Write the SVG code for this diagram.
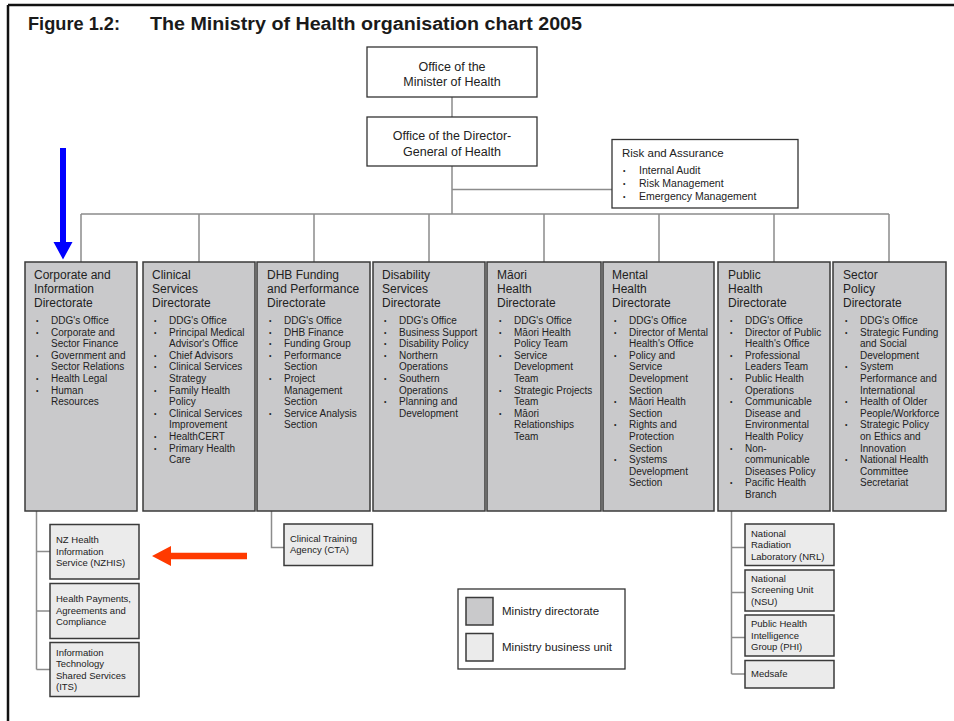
<svg xmlns="http://www.w3.org/2000/svg" width="954" height="721" viewBox="0 0 954 721">
<style>
text{font-family:"Liberation Sans",Arial,sans-serif;fill:#222}
.ttl{font-weight:bold;font-size:18px;fill:#1a1a1a}
.plain{fill:#fff;stroke:#333;stroke-width:1.3}
.dir{fill:#c9c9cb;stroke:#3a3a3a;stroke-width:1.5}
.unit{fill:#ebebeb;stroke:#3a3a3a;stroke-width:1.5}
.conn{stroke:#8c8c8c;stroke-width:1.5;fill:none}
.h{font-size:12.5px}
.dt{font-size:12px}
.it{font-size:10px}
.bl{font-size:7px}
.ut{font-size:9.5px}
.lg{font-size:11.5px}
.rk{font-size:11.5px}
.ri{font-size:10.5px}
</style>
<defs>
<marker id="m" markerWidth="1" markerHeight="1"/>
</defs>
<rect width="954" height="721" fill="#fff"/>
<path d="M8 5H954M8 5V721" stroke="#111" stroke-width="2.5" fill="none"/>
<text class="ttl" x="28" y="30" textLength="92" lengthAdjust="spacingAndGlyphs">Figure 1.2:</text>
<text class="ttl" x="150" y="30" textLength="432" lengthAdjust="spacingAndGlyphs">The Ministry of Health organisation chart 2005</text>

<g id="connectors">
<path class="conn" d="M452 97V117M452 166V214M452 189.5H612M81 214H889M81 214V262M199 214V262M314 214V262M429 214V262M544 214V262M659 214V262M774 214V262M889 214V262"/>
<path class="conn" d="M36.5 511V669.5M36.5 551.5H50M36.5 611H50M36.5 669.5H50"/>
<path class="conn" d="M271.5 511V547.5H284"/>
<path class="conn" d="M731.5 511V674M731.5 547.5H745M731.5 592.5H745M731.5 637.5H745M731.5 674H745"/>
</g>

<g id="minister">
<rect class="plain" x="367" y="47" width="170" height="50"/>
<text class="h" x="452" y="71" text-anchor="middle">Office of the</text>
<text class="h" x="452" y="86" text-anchor="middle">Minister of Health</text>
</g>
<g id="dg">
<rect class="plain" x="367" y="117" width="170" height="49"/>
<text class="h" x="452" y="140" text-anchor="middle">Office of the Director-</text>
<text class="h" x="452" y="156" text-anchor="middle">General of Health</text>
</g>
<g id="risk">
<rect class="plain" x="612" y="139.5" width="186" height="68.5"/>
<text class="rk" x="622" y="157">Risk and Assurance</text>
<text class="bl" x="623"><tspan x="623" y="173">•</tspan><tspan x="623" y="186">•</tspan><tspan x="623" y="199">•</tspan></text>
<text class="ri"><tspan x="639" y="174">Internal Audit</tspan><tspan x="639" y="187">Risk Management</tspan><tspan x="639" y="200">Emergency Management</tspan></text>
</g>

<g id="dir-corporate">
<rect class="dir" x="25" y="262" width="112" height="249"/>
<text class="dt"><tspan x="34" y="279">Corporate and</tspan><tspan x="34" y="293">Information</tspan><tspan x="34" y="307">Directorate</tspan></text>
<text class="bl"><tspan x="36" y="323">•</tspan><tspan x="36" y="334.6">•</tspan><tspan x="36" y="357.8">•</tspan><tspan x="36" y="381">•</tspan><tspan x="36" y="392.6">•</tspan></text>
<text class="it"><tspan x="51" y="324">DDG's Office</tspan><tspan x="51" y="335.6">Corporate and</tspan><tspan x="51" y="347.2">Sector Finance</tspan><tspan x="51" y="358.8">Government and</tspan><tspan x="51" y="370.4">Sector Relations</tspan><tspan x="51" y="382">Health Legal</tspan><tspan x="51" y="393.6">Human</tspan><tspan x="51" y="405.2">Resources</tspan></text>
</g>

<g id="dir-clinical">
<rect class="dir" x="143" y="262" width="112" height="249"/>
<text class="dt"><tspan x="152" y="279">Clinical</tspan><tspan x="152" y="293">Services</tspan><tspan x="152" y="307">Directorate</tspan></text>
<text class="bl"><tspan x="154" y="323">•</tspan><tspan x="154" y="334.6">•</tspan><tspan x="154" y="357.8">•</tspan><tspan x="154" y="369.4">•</tspan><tspan x="154" y="392.6">•</tspan><tspan x="154" y="415.8">•</tspan><tspan x="154" y="439">•</tspan><tspan x="154" y="450.6">•</tspan></text>
<text class="it"><tspan x="169" y="324">DDG's Office</tspan><tspan x="169" y="335.6">Principal Medical</tspan><tspan x="169" y="347.2">Advisor's Office</tspan><tspan x="169" y="358.8">Chief Advisors</tspan><tspan x="169" y="370.4">Clinical Services</tspan><tspan x="169" y="382">Strategy</tspan><tspan x="169" y="393.6">Family Health</tspan><tspan x="169" y="405.2">Policy</tspan><tspan x="169" y="416.8">Clinical Services</tspan><tspan x="169" y="428.4">Improvement</tspan><tspan x="169" y="440">HealthCERT</tspan><tspan x="169" y="451.6">Primary Health</tspan><tspan x="169" y="463.2">Care</tspan></text>
</g>

<g id="dir-dhb">
<rect class="dir" x="257" y="262" width="113" height="249"/>
<text class="dt"><tspan x="267" y="279">DHB Funding</tspan><tspan x="267" y="293">and Performance</tspan><tspan x="267" y="307">Directorate</tspan></text>
<text class="bl"><tspan x="269" y="323">•</tspan><tspan x="269" y="334.6">•</tspan><tspan x="269" y="346.2">•</tspan><tspan x="269" y="357.8">•</tspan><tspan x="269" y="381">•</tspan><tspan x="269" y="415.8">•</tspan></text>
<text class="it"><tspan x="284" y="324">DDG's Office</tspan><tspan x="284" y="335.6">DHB Finance</tspan><tspan x="284" y="347.2">Funding Group</tspan><tspan x="284" y="358.8">Performance</tspan><tspan x="284" y="370.4">Section</tspan><tspan x="284" y="382">Project</tspan><tspan x="284" y="393.6">Management</tspan><tspan x="284" y="405.2">Section</tspan><tspan x="284" y="416.8">Service Analysis</tspan><tspan x="284" y="428.4">Section</tspan></text>
</g>

<g id="dir-disability">
<rect class="dir" x="373" y="262" width="112" height="249"/>
<text class="dt"><tspan x="382" y="279">Disability</tspan><tspan x="382" y="293">Services</tspan><tspan x="382" y="307">Directorate</tspan></text>
<text class="bl"><tspan x="384" y="323">•</tspan><tspan x="384" y="334.6">•</tspan><tspan x="384" y="346.2">•</tspan><tspan x="384" y="357.8">•</tspan><tspan x="384" y="381">•</tspan><tspan x="384" y="404.2">•</tspan></text>
<text class="it"><tspan x="399" y="324">DDG's Office</tspan><tspan x="399" y="335.6">Business Support</tspan><tspan x="399" y="347.2">Disability Policy</tspan><tspan x="399" y="358.8">Northern</tspan><tspan x="399" y="370.4">Operations</tspan><tspan x="399" y="382">Southern</tspan><tspan x="399" y="393.6">Operations</tspan><tspan x="399" y="405.2">Planning and</tspan><tspan x="399" y="416.8">Development</tspan></text>
</g>

<g id="dir-maori">
<rect class="dir" x="487" y="262" width="114" height="249"/>
<text class="dt"><tspan x="497" y="279">Māori</tspan><tspan x="497" y="293">Health</tspan><tspan x="497" y="307">Directorate</tspan></text>
<text class="bl"><tspan x="499" y="323">•</tspan><tspan x="499" y="334.6">•</tspan><tspan x="499" y="357.8">•</tspan><tspan x="499" y="392.6">•</tspan><tspan x="499" y="415.8">•</tspan></text>
<text class="it"><tspan x="514" y="324">DDG's Office</tspan><tspan x="514" y="335.6">Māori Health</tspan><tspan x="514" y="347.2">Policy Team</tspan><tspan x="514" y="358.8">Service</tspan><tspan x="514" y="370.4">Development</tspan><tspan x="514" y="382">Team</tspan><tspan x="514" y="393.6">Strategic Projects</tspan><tspan x="514" y="405.2">Team</tspan><tspan x="514" y="416.8">Māori</tspan><tspan x="514" y="428.4">Relationships</tspan><tspan x="514" y="440">Team</tspan></text>
</g>

<g id="dir-mental">
<rect class="dir" x="603" y="262" width="111" height="249"/>
<text class="dt"><tspan x="612" y="279">Mental</tspan><tspan x="612" y="293">Health</tspan><tspan x="612" y="307">Directorate</tspan></text>
<text class="bl"><tspan x="614" y="323">•</tspan><tspan x="614" y="334.6">•</tspan><tspan x="614" y="357.8">•</tspan><tspan x="614" y="404.2">•</tspan><tspan x="614" y="427.4">•</tspan><tspan x="614" y="462.2">•</tspan></text>
<text class="it"><tspan x="629" y="324">DDG's Office</tspan><tspan x="629" y="335.6">Director of Mental</tspan><tspan x="629" y="347.2">Health's Office</tspan><tspan x="629" y="358.8">Policy and</tspan><tspan x="629" y="370.4">Service</tspan><tspan x="629" y="382">Development</tspan><tspan x="629" y="393.6">Section</tspan><tspan x="629" y="405.2">Māori Health</tspan><tspan x="629" y="416.8">Section</tspan><tspan x="629" y="428.4">Rights and</tspan><tspan x="629" y="440">Protection</tspan><tspan x="629" y="451.6">Section</tspan><tspan x="629" y="463.2">Systems</tspan><tspan x="629" y="474.8">Development</tspan><tspan x="629" y="486.4">Section</tspan></text>
</g>

<g id="dir-public">
<rect class="dir" x="718" y="262" width="112" height="249"/>
<text class="dt"><tspan x="728" y="279">Public</tspan><tspan x="728" y="293">Health</tspan><tspan x="728" y="307">Directorate</tspan></text>
<text class="bl"><tspan x="730" y="323">•</tspan><tspan x="730" y="334.6">•</tspan><tspan x="730" y="357.8">•</tspan><tspan x="730" y="381">•</tspan><tspan x="730" y="404.2">•</tspan><tspan x="730" y="450.6">•</tspan><tspan x="730" y="485.4">•</tspan></text>
<text class="it"><tspan x="745" y="324">DDG's Office</tspan><tspan x="745" y="335.6">Director of Public</tspan><tspan x="745" y="347.2">Health's Office</tspan><tspan x="745" y="358.8">Professional</tspan><tspan x="745" y="370.4">Leaders Team</tspan><tspan x="745" y="382">Public Health</tspan><tspan x="745" y="393.6">Operations</tspan><tspan x="745" y="405.2">Communicable</tspan><tspan x="745" y="416.8">Disease and</tspan><tspan x="745" y="428.4">Environmental</tspan><tspan x="745" y="440">Health Policy</tspan><tspan x="745" y="451.6">Non-</tspan><tspan x="745" y="463.2">communicable</tspan><tspan x="745" y="474.8">Diseases Policy</tspan><tspan x="745" y="486.4">Pacific Health</tspan><tspan x="745" y="498">Branch</tspan></text>
</g>

<g id="dir-sector">
<rect class="dir" x="833" y="262" width="113" height="249"/>
<text class="dt"><tspan x="843" y="279">Sector</tspan><tspan x="843" y="293">Policy</tspan><tspan x="843" y="307">Directorate</tspan></text>
<text class="bl"><tspan x="845" y="323">•</tspan><tspan x="845" y="334.6">•</tspan><tspan x="845" y="369.4">•</tspan><tspan x="845" y="404.2">•</tspan><tspan x="845" y="427.4">•</tspan><tspan x="845" y="462.2">•</tspan></text>
<text class="it"><tspan x="860" y="324">DDG's Office</tspan><tspan x="860" y="335.6">Strategic Funding</tspan><tspan x="860" y="347.2">and Social</tspan><tspan x="860" y="358.8">Development</tspan><tspan x="860" y="370.4">System</tspan><tspan x="860" y="382">Performance and</tspan><tspan x="860" y="393.6">International</tspan><tspan x="860" y="405.2">Health of Older</tspan><tspan x="860" y="416.8">People/Workforce</tspan><tspan x="860" y="428.4">Strategic Policy</tspan><tspan x="860" y="440">on Ethics and</tspan><tspan x="860" y="451.6">Innovation</tspan><tspan x="860" y="463.2">National Health</tspan><tspan x="860" y="474.8">Committee</tspan><tspan x="860" y="486.4">Secretariat</tspan></text>
</g>

<g id="unit-nzhis">
<rect class="unit" x="50" y="524.5" width="89" height="54.5"/>
<text class="ut"><tspan x="56" y="543">NZ Health</tspan><tspan x="56" y="554.5">Information</tspan><tspan x="56" y="566">Service (NZHIS)</tspan></text>
</g>
<g id="unit-hpac">
<rect class="unit" x="50" y="583.5" width="89" height="55"/>
<text class="ut"><tspan x="56" y="602">Health Payments,</tspan><tspan x="56" y="613.5">Agreements and</tspan><tspan x="56" y="625">Compliance</tspan></text>
</g>
<g id="unit-its">
<rect class="unit" x="50" y="642.5" width="89" height="54"/>
<text class="ut"><tspan x="56" y="655.5">Information</tspan><tspan x="56" y="667">Technology</tspan><tspan x="56" y="678.5">Shared Services</tspan><tspan x="56" y="690">(ITS)</tspan></text>
</g>
<g id="unit-cta">
<rect class="unit" x="284" y="524" width="88.5" height="41.5"/>
<text class="ut"><tspan x="290" y="541.5">Clinical Training</tspan><tspan x="290" y="553">Agency (CTA)</tspan></text>
</g>
<g id="unit-nrl">
<rect class="unit" x="745" y="524" width="89" height="41.5"/>
<text class="ut"><tspan x="751" y="536.5">National</tspan><tspan x="751" y="548">Radiation</tspan><tspan x="751" y="559.5">Laboratory (NRL)</tspan></text>
</g>
<g id="unit-nsu">
<rect class="unit" x="745" y="570" width="89" height="41"/>
<text class="ut"><tspan x="751" y="581.5">National</tspan><tspan x="751" y="593">Screening Unit</tspan><tspan x="751" y="604.5">(NSU)</tspan></text>
</g>
<g id="unit-phi">
<rect class="unit" x="745" y="615" width="89" height="41"/>
<text class="ut"><tspan x="751" y="627">Public Health</tspan><tspan x="751" y="638.5">Intelligence</tspan><tspan x="751" y="650">Group (PHI)</tspan></text>
</g>
<g id="unit-medsafe">
<rect class="unit" x="745" y="660.5" width="89" height="27.5"/>
<text class="ut" x="751" y="677">Medsafe</text>
</g>

<g id="legend">
<rect class="plain" x="458" y="589" width="167" height="80"/>
<rect class="dir" x="466" y="597.5" width="27" height="27.5"/>
<rect class="unit" x="466" y="633.5" width="27" height="27.5"/>
<text class="lg" x="502" y="614.5">Ministry directorate</text>
<text class="lg" x="502" y="650.5">Ministry business unit</text>
</g>

<g id="arrows">
<path d="M60 148H66V242H72.5L63 259.5L53.5 242H60Z" fill="#0000ff"/>
<path d="M247 552.7V559.3H171V566L152 556L171 546V552.7Z" fill="#ff3a00"/>
</g>
</svg>
